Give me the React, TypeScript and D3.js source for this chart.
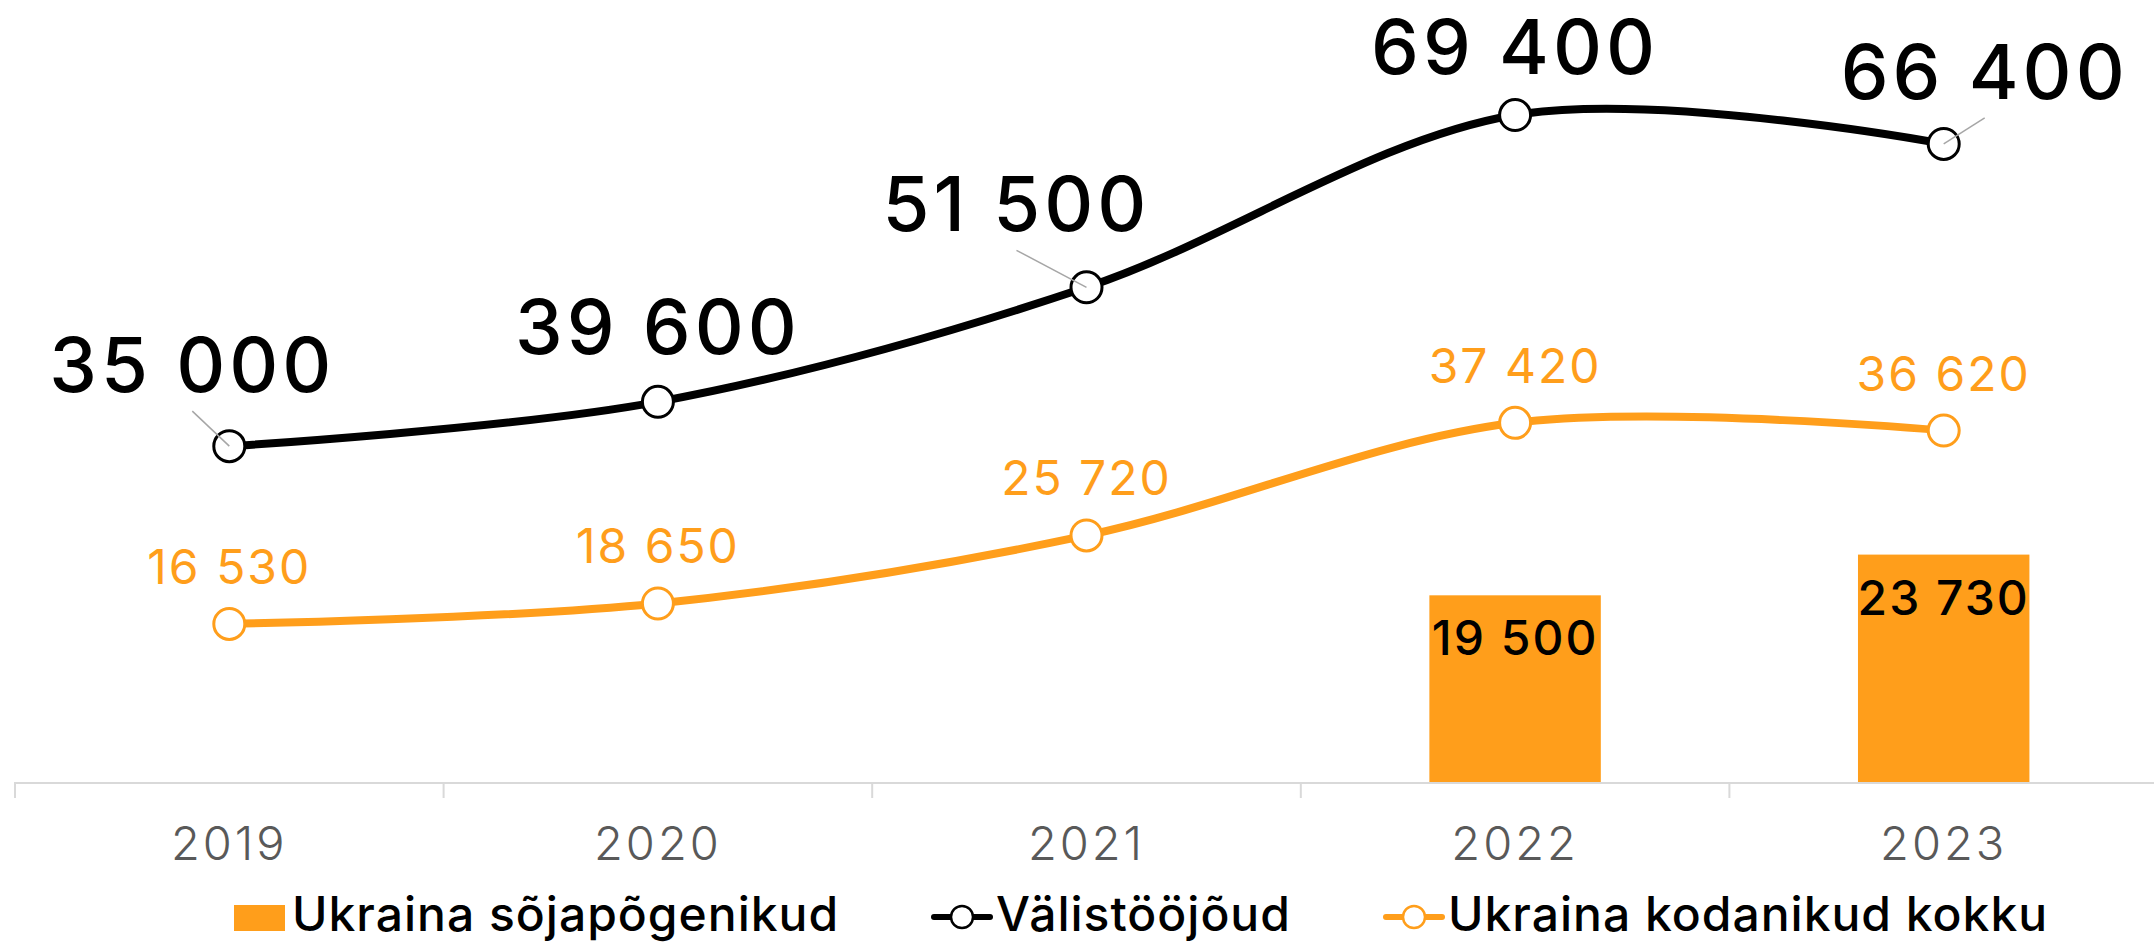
import React from "react";
import * as d3 from "d3";

const years = ["2019", "2020", "2021", "2022", "2023"];
const foreignWorkforce = [35000, 39600, 51500, 69400, 66400];
const ukrainianCitizens = [16530, 18650, 25720, 37420, 36620];
const warRefugees: (number | null)[] = [null, null, null, 19500, 23730];

const seriesNames = ["Ukraina sõjapõgenikud", "Välistööjõud", "Ukraina kodanikud kokku"];

// label layout offsets (pixels) relative to the data point
const blackLabelDx = [-37, 0, -70, 0, 41];
const blackLabelDy = [-54, -48, -56, -41, -45];

const W = 2154;
const H = 944;
const ORANGE = "#FF9E1B";
const FONT = "Inter, 'Open Sans', sans-serif";

const fmt = (v: number) => String(v).replace(/\B(?=(\d{3})+(?!\d))/g, " ");

export default function App() {
  const x = d3.scaleBand<string>().domain(years).range([15, 2158]).padding(0);
  const y = d3.scaleLinear().domain([0, 80000]).range([783, 13]);
  const cx = (i: number) => (x(years[i]) as number) + x.bandwidth() / 2;
  const barW = x.bandwidth() * 0.4;

  const line = d3
    .line<number>()
    .x((_, i) => cx(i))
    .y((d) => y(d))
    .curve(d3.curveCardinal.tension(0));

  const ticks = years.map((yr) => x(yr) as number).concat([x.range()[1]]);

  return (
    <svg
      width={W}
      height={H}
      style={{ position: "absolute", left: 0, top: 0, background: "#fff" }}
      fontFamily={FONT}
    >
      {/* bars */}
      {warRefugees.map((v, i) =>
        v == null ? null : (
          <g key={"b" + i}>
            <rect x={cx(i) - barW / 2} y={y(v)} width={barW} height={y(0) - y(v)} fill={ORANGE} />
            <text
              x={cx(i)}
              y={y(v) + 60}
              textAnchor="middle"
              fontSize={48}
              letterSpacing={2}
              fontWeight={500}
              fill="#000"
            >
              {fmt(v)}
            </text>
          </g>
        )
      )}

      {/* axis */}
      <line x1={14} x2={W} y1={y(0)} y2={y(0)} stroke="#D9D9D9" strokeWidth={2} />
      {ticks.map((t, i) => (
        <line key={"t" + i} x1={t} x2={t} y1={y(0)} y2={y(0) + 15} stroke="#D9D9D9" strokeWidth={2} />
      ))}
      {years.map((yr, i) => (
        <text
          key={"y" + i}
          x={cx(i)}
          y={860}
          textAnchor="middle"
          fontSize={47}
          letterSpacing={3}
          fontWeight={300}
          fill="#595959"
        >
          {yr}
        </text>
      ))}

      {/* lines */}
      <path d={line(foreignWorkforce) || ""} fill="none" stroke="#000" strokeWidth={8} />
      <path d={line(ukrainianCitizens) || ""} fill="none" stroke={ORANGE} strokeWidth={8} />

      {foreignWorkforce.map((v, i) => (
        <circle key={"cb" + i} cx={cx(i)} cy={y(v)} r={15.5} fill="#fff" stroke="#000" strokeWidth={3} />
      ))}
      {ukrainianCitizens.map((v, i) => (
        <circle key={"co" + i} cx={cx(i)} cy={y(v)} r={15.5} fill="#fff" stroke={ORANGE} strokeWidth={3} />
      ))}

      {/* leader lines */}
      {foreignWorkforce.map((v, i) =>
        blackLabelDx[i] === 0 ? null : (
          <line
            key={"ll" + i}
            x1={cx(i) + blackLabelDx[i]}
            y1={y(v) + blackLabelDy[i] + 19}
            x2={cx(i)}
            y2={y(v)}
            stroke="#A6A6A6"
            strokeWidth={1.5}
          />
        )
      )}

      {/* labels */}
      {foreignWorkforce.map((v, i) => (
        <text
          key={"lb" + i}
          x={cx(i) + blackLabelDx[i]}
          y={y(v) + blackLabelDy[i]}
          textAnchor="middle"
          fontSize={76}
          letterSpacing={4}
          fontWeight={500}
          fill="#000"
        >
          {fmt(v)}
        </text>
      ))}
      {ukrainianCitizens.map((v, i) => (
        <text
          key={"lo" + i}
          x={cx(i)}
          y={y(v) - 40}
          textAnchor="middle"
          fontSize={48}
          letterSpacing={2}
          fontWeight={400}
          fill={ORANGE}
        >
          {fmt(v)}
        </text>
      ))}

      {/* legend */}
      <g>
        <rect x={234} y={905} width={51} height={26} fill={ORANGE} />
        <text x={292} y={931} fontSize={48} letterSpacing={1} fontWeight={500} fill="#000">
          {seriesNames[0]}
        </text>

        <line x1={934} x2={990} y1={917} y2={917} stroke="#000" strokeWidth={6} strokeLinecap="round" />
        <circle cx={962} cy={917} r={11} fill="#fff" stroke="#000" strokeWidth={2.5} />
        <text x={996} y={931} fontSize={48} letterSpacing={1} fontWeight={500} fill="#000">
          {seriesNames[1]}
        </text>

        <line x1={1386} x2={1442} y1={917} y2={917} stroke={ORANGE} strokeWidth={6} strokeLinecap="round" />
        <circle cx={1414} cy={917} r={11} fill="#fff" stroke={ORANGE} strokeWidth={2.5} />
        <text x={1448} y={931} fontSize={48} letterSpacing={1} fontWeight={500} fill="#000">
          {seriesNames[2]}
        </text>
      </g>
    </svg>
  );
}
